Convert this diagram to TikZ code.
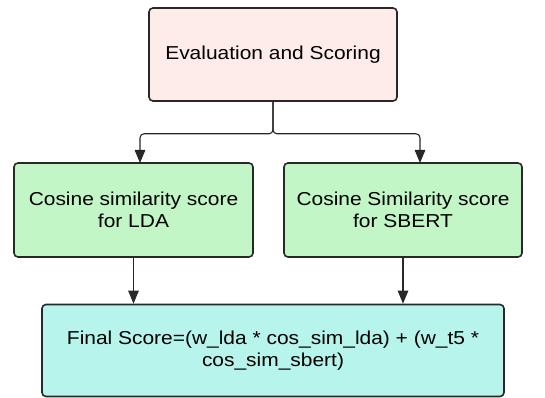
\documentclass[tikz,border=0pt]{standalone}
\usepackage{fontspec}
\setmainfont{Liberation Sans}[FakeStretch=1.12]
\usetikzlibrary{arrows.meta}
\definecolor{pinkfill}{RGB}{253,236,234}
\definecolor{greenfill}{RGB}{194,246,198}
\definecolor{cyanfill}{RGB}{182,244,236}
\definecolor{edge}{RGB}{40,40,40}
\begin{document}
\begin{tikzpicture}[x=1pt,y=-1pt,
  box/.style={draw=edge,line width=1.6pt,rounded corners=4pt,inner sep=0pt,align=center,
    font=\fontsize{18.7}{22}\selectfont,text=black},
  conn/.style={draw=edge,line width=1.1pt},
  arr/.style={conn,-{Triangle[length=13pt,width=10.5pt]}}]
\useasboundingbox (0,0) rectangle (545,398);
\node[box,fill=pinkfill,minimum width=248pt,minimum height=93pt] (top) at (273,54.5) {Evaluation and Scoring};
\node[box,fill=greenfill,minimum width=239pt,minimum height=94pt] (lda) at (133.5,210) {Cosine similarity score\\for LDA};
\node[box,fill=greenfill,minimum width=238pt,minimum height=94pt] (sbert) at (403,210) {Cosine Similarity score\\for SBERT};
\node[box,fill=cyanfill,minimum width=462pt,minimum height=92pt] (final) at (273,350.5) {Final Score=(w\_lda * cos\_sim\_lda) + (w\_t5 *\\cos\_sim\_sbert)};
\coordinate (la) at (140,163);
\coordinate (ra) at (420,163);
\draw[arr,rounded corners=4pt] (top.south) -- ++(0,32) -| (la);
\draw[arr,rounded corners=4pt] (top.south) -- ++(0,32) -| (ra);
\draw[arr] (lda.south) -- (lda.south |- final.north);
\draw[arr] (sbert.south) -- (sbert.south |- final.north);
\end{tikzpicture}
\end{document}
